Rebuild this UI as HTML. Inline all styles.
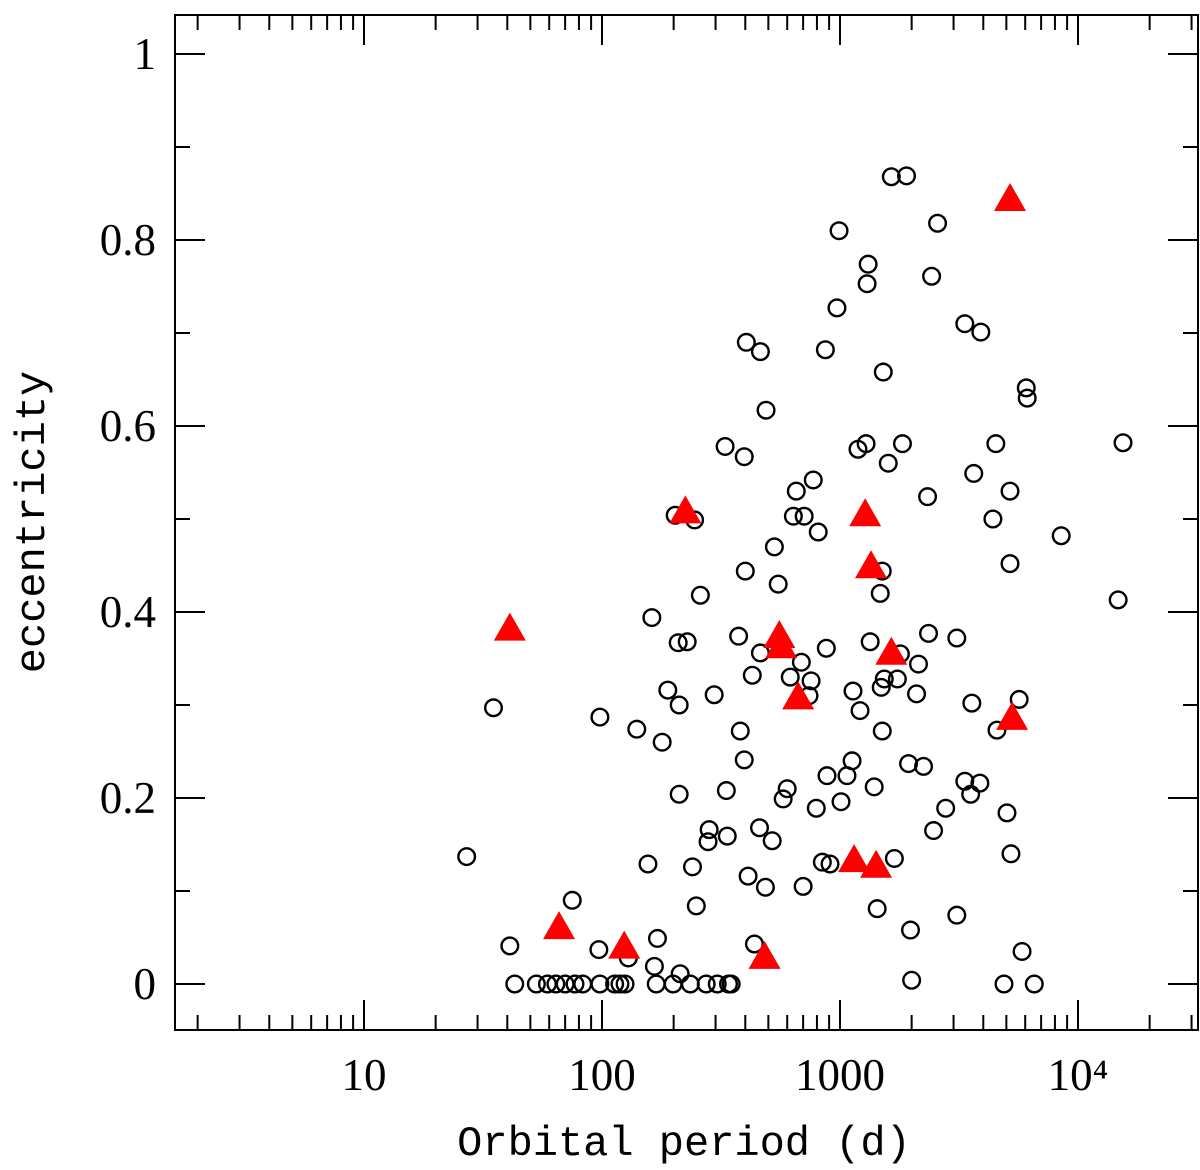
<!DOCTYPE html>
<html><head><meta charset="utf-8"><style>
html,body{margin:0;padding:0;background:#fff;}
svg{display:block;}
</style></head><body>
<svg id="chart" width="1200" height="1170" xmlns="http://www.w3.org/2000/svg"></svg>
<script>
const circlePeriods=[27,35,41,43,53,59,64,70,75,77,83,98,97,98,113,119,125,129,140,156,162,166,169,171,179,189,199,203,209,211,211,213,228,235,240,245,249,259,274,279,282,296,305,329,333,336,340,349,375,381,396,396,400,404,411,428,437,459,463,463,486,489,519,530,550,577,600,618,637,655,688,700,707,741,756,772,795,810,843,868,876,882,908,971,991,1010,1070,1124,1134,1190,1214,1287,1300,1313,1339,1392,1433,1476,1490,1505,1505,1520,1535,1595,1643,1692,1742,1794,1830,1903,1941,1978,2000,2097,2137,2244,2333,2355,2426,2473,2570,2780,3096,3096,3345,3345,3540,3580,3648,3870,3906,4390,4516,4566,4886,5030,5180,5180,5228,5660,5820,6062,6117,6550,8500,14750,15460];
const circleEcc=[0.137,0.297,0.041,0,0,0,0,0,0.090,0,0,0,0.037,0.287,0,0,0,0.028,0.274,0.129,0.394,0.019,0,0.049,0.260,0.316,0,0.504,0.367,0.300,0.204,0.011,0.368,0,0.126,0.499,0.084,0.418,0,0.153,0.166,0.311,0,0.578,0.208,0.159,0,0,0.374,0.272,0.567,0.241,0.444,0.690,0.116,0.332,0.043,0.168,0.680,0.356,0.104,0.617,0.154,0.470,0.430,0.199,0.210,0.330,0.503,0.530,0.346,0.105,0.503,0.310,0.326,0.542,0.189,0.486,0.131,0.682,0.361,0.224,0.129,0.727,0.810,0.196,0.224,0.240,0.315,0.575,0.294,0.581,0.753,0.774,0.368,0.212,0.081,0.420,0.319,0.272,0.444,0.658,0.328,0.560,0.868,0.135,0.328,0.355,0.581,0.869,0.237,0.058,0.004,0.312,0.344,0.234,0.524,0.377,0.761,0.165,0.818,0.189,0.074,0.372,0.710,0.218,0.204,0.302,0.549,0.216,0.701,0.500,0.581,0.273,0,0.184,0.530,0.452,0.140,0.306,0.035,0.641,0.630,0,0.482,0.413,0.582];
const triPeriods=[41,66,124,224,482,556,566,667,1146,1276,1350,1418,1643,5180,5285];
const triEcc=[0.380,0.059,0.038,0.506,0.027,0.372,0.361,0.306,0.131,0.503,0.447,0.125,0.354,0.842,0.284];
const xMajorVals=[10,100,1000,10000];
const xMajorLabels=["10","100","1000","10⁴"];
const yMajorVals=[0,0.2,0.4,0.6,0.8,1];
const yMajorLabels=["0","0.2","0.4","0.6","0.8","1"];

const L=175,R=1198,T=15,B=1030;
const X=p=>364+238*(Math.log10(p)-1);
const Y=e=>984-930*e;
const svg=document.getElementById('chart');
const NS='http://www.w3.org/2000/svg';
function mk(tag,attrs,parent){const el=document.createElementNS(NS,tag);for(const k in attrs)el.setAttribute(k,attrs[k]);(parent||svg).appendChild(el);return el;}

const frame=mk('rect',{x:L,y:T,width:R-L,height:B-T,fill:'none',stroke:'#000','stroke-width':2});



const ticks=mk('g',{stroke:'#000','stroke-width':2});


for(let d=0;d<=4;d++){for(let m=1;m<=9;m++){const v=m*Math.pow(10,d);const x=X(v);if(x<=L||x>=R)continue;const len=m===1?30:15;
 mk('line',{x1:x,y1:B,x2:x,y2:B-len},ticks);mk('line',{x1:x,y1:T,x2:x,y2:T+len},ticks);}}
for(let i=0;i<=10;i++){const y=Y(i/10);const len=i%2===0?30:15;
 mk('line',{x1:L,y1:y,x2:L+len,y2:y},ticks);mk('line',{x1:R,y1:y,x2:R-len,y2:y},ticks);}

xMajorVals.forEach((v,i)=>{const t=mk('text',{x:X(v),y:1090,'text-anchor':'middle','font-family':'Liberation Serif, serif','font-size':45});t.textContent=xMajorLabels[i];
 
 });
yMajorVals.forEach((v,i)=>{const t=mk('text',{x:156,y:Y(v)+15,'text-anchor':'end','font-family':'Liberation Serif, serif','font-size':45});t.textContent=yMajorLabels[i];
 
 });

const xt=mk('text',{x:684,y:1155,'text-anchor':'middle','font-family':'Liberation Mono, monospace','font-size':42});xt.textContent='Orbital period (d)';


const yt=mk('text',{x:0,y:0,'text-anchor':'middle','font-family':'Liberation Mono, monospace','font-size':42,transform:'translate(44,522) rotate(-90)'});yt.textContent='eccentricity';



const cg=mk('g',{fill:'none',stroke:'#000','stroke-width':2.4});


circlePeriods.forEach((p,i)=>{const c=mk('circle',{cx:X(p),cy:Y(circleEcc[i]),r:8.3},cg);
 
 });
const tg=mk('g',{fill:'#f00'});


triPeriods.forEach((p,i)=>{const x=X(p),y=Y(triEcc[i]);
 const t=mk('polygon',{points:`${x-16},${y+10} ${x+16},${y+10} ${x},${y-18}`},tg);
 
 });
</script>
</body></html>
